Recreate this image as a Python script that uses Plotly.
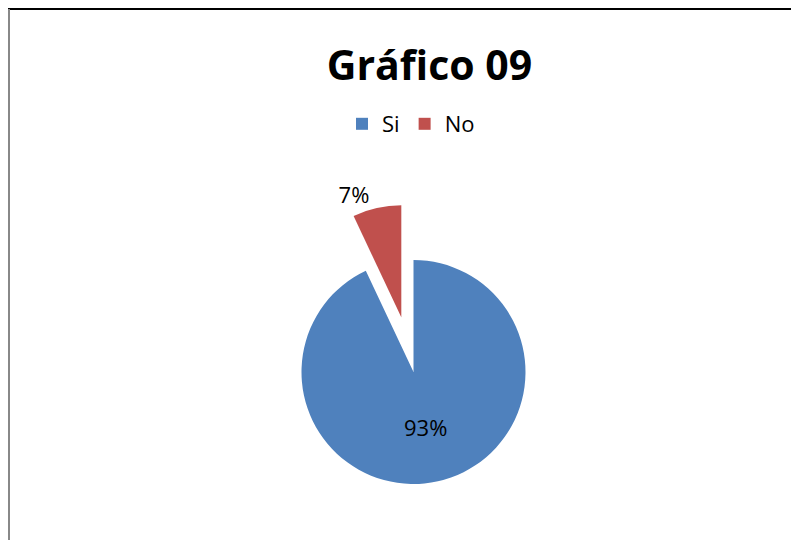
import plotly.graph_objects as go

categories = ["Si", "No"]
values = [93, 7]
colors = ["#4F81BD", "#C0504D"]
pulls = [0, 0.5]
text_positions = ["inside", "outside"]
title_text = "Gráfico 09"

W, H = 799, 540
FONT = "Open Sans"

fig = go.Figure(
    go.Pie(
        labels=categories,
        values=values,
        sort=False,
        direction="clockwise",
        rotation=0,
        pull=pulls,
        marker=dict(colors=colors, line=dict(width=0)),
        textinfo="percent",
        texttemplate="%{percent:.0%}",
        textposition=text_positions,
        insidetextorientation="horizontal",
        textfont=dict(family=FONT, size=22, color="#000000"),
        domain=dict(x=[205.5 / W, 605.5 / W], y=[1 - 532 / H, 1 - 196 / H]),
        hoverinfo="label+percent",
    )
)

fig.update_layout(
    width=W,
    height=H,
    margin=dict(l=0, r=0, t=0, b=0, autoexpand=False),
    paper_bgcolor="white",
    plot_bgcolor="white",
    font=dict(family=FONT, color="#000000"),
    title=dict(
        text="<b>" + title_text + "</b>",
        font=dict(family=FONT, size=41, color="#000000"),
        x=421.5 / W,
        xanchor="center",
        xref="paper",
        y=1 - 58 / H,
        yanchor="middle",
        yref="container",
    ),
    showlegend=True,
    legend=dict(
        orientation="h",
        x=403 / W,
        xanchor="center",
        y=1 - 116 / H,
        yanchor="middle",
        font=dict(family=FONT, size=22, color="#000000"),
        itemwidth=30,
        bgcolor="rgba(0,0,0,0)",
    ),
    shapes=[
        dict(type="line", xref="paper", yref="paper", x0=0, x1=1, y0=1 - 1 / H, y1=1 - 1 / H,
             line=dict(color="#000000", width=2)),
        dict(type="line", xref="paper", yref="paper", x0=1 / W, x1=1 / W, y0=1 - 1 / H, y1=0,
             line=dict(color="#888888", width=2)),
    ],
)

fig.write_html("out.html")
